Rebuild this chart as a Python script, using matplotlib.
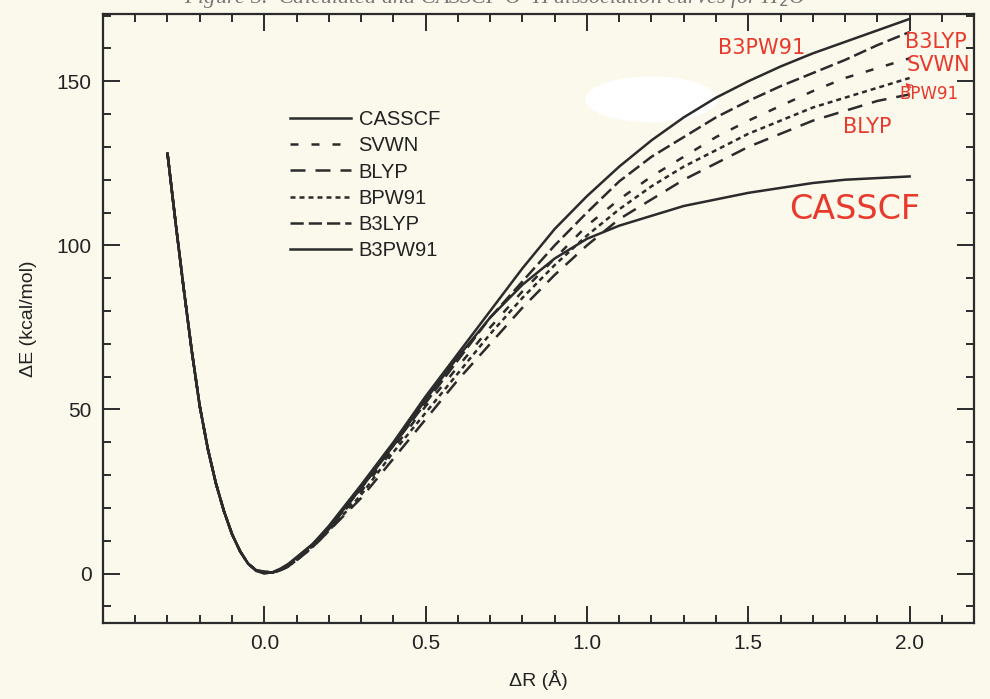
import matplotlib
matplotlib.use('Agg')
import matplotlib.pyplot as plt
from matplotlib.patches import Ellipse

# bond stretch (Angstrom) and energies (kcal/mol)
dR = [-0.3, -0.275, -0.25, -0.225, -0.2, -0.175, -0.15, -0.125, -0.1, -0.075, -0.05, -0.025,
      0.0, 0.025, 0.05, 0.075, 0.1, 0.15, 0.2, 0.3, 0.4, 0.5, 0.6,
      0.7, 0.8, 0.9, 1.0, 1.1, 1.2, 1.3, 1.4, 1.5, 1.6, 1.7, 1.8, 1.9, 2.0]
casscf = [128, 107, 87, 68, 51, 38, 27.5, 19, 12, 6.8, 3, 0.8,
          0, 0.4, 1.5, 3, 5, 9, 14, 26, 39, 53, 66,
          78, 88, 96, 102, 106, 109, 112, 114, 116, 117.5, 119, 120, 120.5, 121]
svwn = [128, 107, 87, 68, 51, 38, 27.5, 19, 12, 6.8, 3, 1.0,
        0.6, 0.3, 1.0, 2.3, 4.2, 8.3, 13.5, 25, 38, 51, 63,
        75, 86, 96, 106, 114, 121, 127, 133, 138, 142.5, 147, 151, 154, 157]
blyp = [128, 107, 87, 68, 51, 38, 27.5, 19, 12, 6.8, 3, 1.0,
        0.6, 0.3, 1.0, 2.2, 4.0, 8.0, 13, 23, 35, 47, 59,
        70, 81, 91, 100, 108, 114, 120, 125, 130, 134, 138, 141, 144, 146]
bpw91 = [128, 107, 87, 68, 51, 38, 27.5, 19, 12, 6.8, 3, 1.0,
         0.6, 0.3, 1.0, 2.2, 4.1, 8.1, 13, 24, 37, 49, 61,
         73, 84, 94, 103, 111, 118, 124, 129, 134, 138, 142, 145, 148, 151]
b3lyp = [128, 107, 87, 68, 51, 38, 27.5, 19, 12, 6.8, 3, 1.0,
         0.6, 0.3, 1.0, 2.3, 4.2, 8.4, 13.5, 26, 39, 52, 65,
         78, 89, 100, 110, 119.5, 127, 133, 139, 144, 148.5, 152.5, 156.5, 161, 165]
b3pw91 = [128, 107, 87, 68, 51, 38, 27.5, 19, 12, 6.8, 3, 0.9,
          0.3, 0.3, 1.2, 2.7, 4.8, 9, 14.5, 27, 40, 54, 67,
          80, 93, 105, 115, 124, 132, 139, 145, 150, 154.5, 158.5, 162, 165.5, 169]

names = ['CASSCF', 'SVWN', 'BLYP', 'BPW91', 'B3LYP', 'B3PW91']
series = [casscf, svwn, blyp, bpw91, b3lyp, b3pw91]
styles = ['-', (0, (3.2, 5.2)), (0, (6, 4)), (0, (2, 1.6)), (0, (5.3, 2)), '-']

paper = '#fbf8ec'
ink = '#2b2b2b'
red = '#e83a2c'

plt.rcParams['font.family'] = ['Liberation Sans', 'DejaVu Sans']
fig = plt.figure(figsize=(9.9, 6.99), dpi=100, facecolor=paper)
ax = fig.add_axes([0.104, 0.109, 0.880, 0.871], facecolor=paper)

for name, y, ls in zip(names, series, styles):
    ax.plot(dR, y, color=ink, lw=1.8, ls=ls, label=name)

ax.set_xlim(-0.5, 2.2); ax.set_ylim(-15, 170.5)
ax.set_xticks([0.0, 0.5, 1.0, 1.5, 2.0])
ax.set_xticklabels(['0.0', '0.5', '1.0', '1.5', '2.0'])
ax.set_xticks([v / 10 for v in range(-4, 22)], minor=True)
ax.set_yticks([0, 50, 100, 150])
ax.set_yticks(list(range(-10, 171, 10)), minor=True)
ax.tick_params(which='both', direction='in', top=True, right=True, color=ink,
               labelsize=15, labelcolor='#222222', width=1.4, pad=8)
ax.tick_params(which='major', length=12)
ax.tick_params(which='minor', length=6)
for s in ax.spines.values():
    s.set_linewidth(1.6); s.set_color(ink)
ax.set_xlabel('ΔR (Å)', fontsize=14, color='#222222', labelpad=12)
ax.set_ylabel('ΔE (kcal/mol)', fontsize=14, color='#222222', labelpad=14)

leg = ax.legend(loc='upper left', bbox_to_anchor=(0.194, 0.872), frameon=False,
                fontsize=14.5, handlelength=3.0, handletextpad=0.4, labelspacing=0.36)
for t in leg.get_texts():
    t.set_color('#222222')

# scanned page header, cut off at the top edge
fig.text(0.5, 1.003, 'Figure 3.  Calculated and CASSCF O–H dissociation curves for H$_2$O',
         ha='center', va='center', fontsize=16, family='Liberation Serif',
         style='italic', color='#777777')

# white-out blotch on the scan
ax.add_patch(Ellipse((1.2, 144.5), 0.41, 14, transform=ax.transData,
                     facecolor='white', edgecolor='none', zorder=1))

# red handwritten notes
hand = dict(color=red, fontsize=15, ha='center', va='center', family='DejaVu Sans')
ax.text(1.54, 160, 'B3PW91', **hand)
ax.text(2.08, 162, 'B3LYP', **hand)
ax.text(2.09, 155, 'SVWN', **hand)
ax.text(2.06, 146, 'BPW91', **dict(hand, fontsize=12))
ax.annotate('', xy=(1.98, 150), xytext=(2.01, 147.5),
            arrowprops=dict(arrowstyle='->', color=red, lw=1))
ax.text(1.87, 136, 'BLYP', **hand)
ax.text(1.83, 111, 'CASSCF', **dict(hand, fontsize=24))

fig.savefig('out.png', dpi=100, facecolor=paper)
